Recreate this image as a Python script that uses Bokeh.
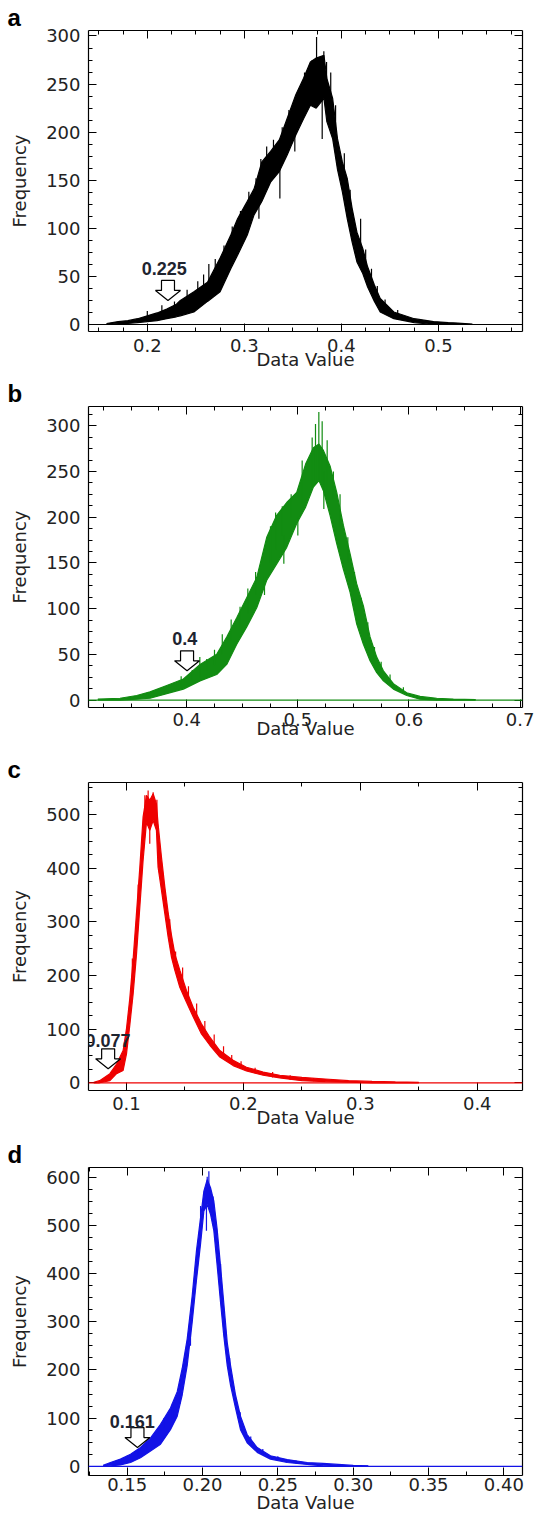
from bokeh.plotting import figure
from bokeh.layouts import column
from bokeh.models import (Range1d, LinearAxis, SingleIntervalTicker, NumeralTickFormatter,
                          Label, Span, CustomJSTickFormatter, Title)
from bokeh.embed import file_html
from bokeh.resources import INLINE

# ---------------- data ----------------
# panel a (black)
a_x = [0.158, 0.170, 0.180, 0.190, 0.200, 0.210, 0.220, 0.230, 0.234, 0.248, 0.262, 0.275,
       0.286, 0.293, 0.303, 0.310, 0.318, 0.327, 0.336, 0.344, 0.353, 0.361, 0.368, 0.374,
       0.382, 0.385, 0.391, 0.396, 0.401, 0.406, 0.411, 0.416, 0.422, 0.427, 0.434, 0.440,
       0.454, 0.475, 0.495, 0.510, 0.520, 0.535]
a_lo = [0, 1, 1, 2, 3, 4, 6, 8, 9, 13, 24, 34, 58, 72, 93, 114, 128, 148, 159, 176, 197, 214,
        228, 225, 235, 211, 193, 161, 138, 110, 86, 65, 53, 39, 24, 13, 6, 2, 0, 0, 0, 0]
a_hi = [1, 3, 4, 6, 9, 12, 16, 21, 25, 34, 44, 69, 93, 110, 128, 141, 169, 180, 192, 214, 239,
        256, 273, 277, 280, 256, 235, 193, 169, 152, 121, 96, 79, 60, 41, 27, 13, 6, 3, 2, 1.5, 0.5]
a_spike_x = [0.200, 0.215, 0.228, 0.241, 0.252, 0.258, 0.2634, 0.270, 0.279, 0.2875, 0.296,
             0.3046, 0.312, 0.317, 0.323, 0.330, 0.339, 0.3459, 0.3562, 0.362, 0.3699, 0.3744,
             0.3819, 0.3847, 0.389, 0.394, 0.403, 0.409, 0.4198, 0.425, 0.431, 0.437, 0.445,
             0.458, 0.3366, 0.3802, 0.300, 0.315, 0.352]
a_spike_lo = [4, 12, 15, 25, 30, 35, 40, 50, 60, 80, 100, 110, 130, 150, 165, 175, 185, 200,
              220, 240, 250, 250, 255, 240, 230, 200, 160, 120, 80, 60, 40, 28, 15, 8,
              131, 193, 88, 110, 180]
a_spike_hi = [14, 20, 24, 36, 45, 52, 63, 68, 82, 102, 118, 138, 152, 172, 185, 192, 205, 223,
              245, 262, 275, 299, 284, 273, 262, 228, 178, 140, 110, 78, 58, 40, 26, 15,
              170, 240, 100, 125, 200]

# panel b (green)
b_x = [0.320, 0.340, 0.355, 0.367, 0.382, 0.397, 0.412, 0.427, 0.436, 0.445, 0.454, 0.463,
       0.472, 0.481, 0.490, 0.499, 0.507, 0.514, 0.519, 0.523, 0.529, 0.535, 0.541, 0.547,
       0.553, 0.559, 0.565, 0.571, 0.577, 0.586, 0.598, 0.610, 0.625, 0.640, 0.660]
b_lo = [0, 0, 1, 2, 7, 12, 21, 28, 39, 61, 80, 101, 131, 149, 167, 193, 211, 233, 240, 229,
        202, 171, 143, 118, 83, 61, 43, 30, 21, 12, 5, 1, 0, 0, 0]
b_hi = [1, 2, 5, 9, 16, 23, 39, 50, 69, 90, 112, 134, 178, 202, 216, 227, 258, 276, 280, 273,
        256, 227, 191, 160, 127, 103, 69, 47, 32, 18, 8, 4, 2, 1, 0.5]
b_spike_x = [0.395, 0.405, 0.4118, 0.418, 0.425, 0.432, 0.440, 0.448, 0.455, 0.462, 0.4754,
             0.480, 0.486, 0.494, 0.5039, 0.5129, 0.5159, 0.5189, 0.5219, 0.5264, 0.532, 0.538,
             0.545, 0.551, 0.557, 0.563, 0.569, 0.575, 0.583, 0.595,
             0.5234, 0.4874, 0.470, 0.500]
b_spike_lo = [15, 22, 25, 32, 38, 50, 65, 80, 95, 115, 150, 165, 180, 200, 215, 235, 240, 240,
              240, 230, 220, 190, 150, 120, 95, 70, 45, 30, 18, 8,
              209, 149, 115, 180]
b_spike_hi = [26, 33, 47, 45, 55, 72, 88, 102, 122, 140, 190, 205, 212, 225, 262, 287, 302, 315,
              305, 284, 250, 225, 178, 140, 112, 85, 58, 42, 28, 14,
              250, 180, 135, 200]

# panel c (red)
c_x = [0.072, 0.077, 0.0858, 0.0915, 0.0971, 0.1000, 0.1028, 0.1057, 0.1085, 0.1114, 0.1142,
       0.1171, 0.1199, 0.1228, 0.1256, 0.1270, 0.1299, 0.1328, 0.1356, 0.1385, 0.1413, 0.1456,
       0.1513, 0.1570, 0.1641, 0.1713, 0.1798, 0.1912, 0.2026, 0.2169, 0.2311, 0.250, 0.270,
       0.290, 0.310, 0.330, 0.350]
c_lo = [0, 0, 4, 17, 23, 54, 107, 166, 238, 328, 415, 486, 471, 489, 471, 402, 359, 315, 272,
        234, 210, 178, 150, 123, 91, 70, 48, 32, 22, 14, 9, 4, 2, 1, 0, 0, 0]
c_hi = [1, 4, 17, 35, 60, 101, 157, 231, 315, 402, 496, 536, 527, 539, 520, 483, 421, 365, 318,
        275, 241, 210, 172, 141, 110, 85, 60, 42, 29, 20, 14, 10, 7, 4, 2.5, 1.5, 0.8]
c_spike_x = [0.105, 0.110, 0.1157, 0.1185, 0.1228, 0.126, 0.132, 0.137, 0.142, 0.148, 0.153,
             0.160, 0.167, 0.175, 0.183, 0.190, 0.198, 0.210, 0.225, 0.240, 0.260, 0.1199]
c_spike_lo = [180, 300, 470, 480, 490, 470, 330, 270, 215, 185, 155, 120, 90, 65, 45, 35, 28,
              18, 10, 5, 3, 446]
c_spike_hi = [232, 370, 536, 545, 542, 528, 372, 305, 245, 215, 180, 148, 115, 90, 68, 52, 40,
              28, 20, 14, 9, 480]

# panel d (blue)
d_x = [0.134, 0.1389, 0.1455, 0.1522, 0.1588, 0.1655, 0.1721, 0.1787, 0.1832, 0.1865, 0.1898,
       0.1931, 0.1960, 0.1987, 0.2009, 0.2031, 0.2053, 0.2075, 0.2097, 0.2119, 0.2141, 0.2164,
       0.2186, 0.2219, 0.2252, 0.2296, 0.2363, 0.2451, 0.2562, 0.2695, 0.280, 0.290, 0.300, 0.310]
d_lo = [0, 1, 3, 8, 18, 32, 46, 76, 104, 148, 209, 298, 387, 462, 530, 543, 523, 489, 417, 342,
        271, 209, 168, 121, 76, 49, 29, 15, 8, 4, 1, 0, 0, 0]
d_hi = [2, 8, 15, 25, 39, 59, 87, 121, 155, 203, 264, 353, 448, 516, 571, 595, 578, 550, 492,
        417, 339, 257, 209, 148, 104, 66, 39, 22, 14, 8, 6, 4, 2, 1]
d_spike_x = [0.150, 0.157, 0.163, 0.1743, 0.180, 0.185, 0.192, 0.1987, 0.2031, 0.2042, 0.207,
             0.212, 0.218, 0.225, 0.232, 0.240, 0.250, 0.262, 0.2026]
d_spike_lo = [10, 20, 28, 80, 100, 130, 250, 500, 545, 550, 510, 350, 190, 90, 45, 25, 13, 6, 489]
d_spike_hi = [22, 36, 52, 100, 130, 170, 290, 540, 601, 612, 560, 420, 225, 112, 62, 36, 21, 12, 540]

# threshold annotations
ann_text = ["0.225", "0.4", "0.077", "0.161"]
ann_text_x = [0.2175, 0.3982, 0.0842, 0.1533]
ann_text_y = [58, 67, 79, 93]
ann_arrow_x = [0.2213, 0.4003, 0.0843, 0.1568]
ann_arrow_y = [25, 32, 26, 39]

letters = ["a", "b", "c", "d"]
colors = ["#000000", "#128c12", "#ee0000", "#1212e6"]
x_ranges = [(0.1394, 0.5866), (0.3116, 0.7022), (0.0675, 0.4387), (0.1243, 0.4124)]
y_ranges = [(-7.3, 305.7), (-8.1, 321), (-14.4, 560), (-19, 620)]
x_tick = [0.1, 0.1, 0.1, 0.05]
x_minor = [4, 4, 2, 2]
x_fmt = ["0.0", "0.0", "0.0", "0.00"]
y_tick = [50, 50, 100, 100]
y_minor = [4, 4, 4, 4]

# ---------------- layout / style ----------------
W = 534
LEFT, RIGHT = 88, 12
FRAME_W = W - LEFT - RIGHT
TOPS = [30, 29, 29, 30]
FRAME_H = [301, 301, 308, 308]
BOTTOMS = [46, 46, 47, 42]
LAB_STANDOFF = [7, 5, 6, 2]
TITLE_STANDOFF = [-6, -11, -6, -2]

AX_FONT = "DejaVu Sans"
TXT_COLOR = "#222222"


def style_axis(ax, show_labels):
    ax.axis_line_color = "black"
    ax.axis_line_width = 1.2
    ax.major_tick_line_color = "black"
    ax.minor_tick_line_color = "black"
    ax.major_tick_in = 8
    ax.major_tick_out = 0
    ax.minor_tick_in = 4
    ax.minor_tick_out = 0
    if show_labels:
        ax.major_label_text_font = AX_FONT
        ax.major_label_text_font_size = "18px"
        ax.major_label_text_color = TXT_COLOR
        ax.axis_label_text_font = AX_FONT
        ax.axis_label_text_font_size = "18px"
        ax.axis_label_text_font_style = "normal"
        ax.axis_label_text_color = TXT_COLOR
    else:
        ax.major_label_text_font_size = "0px"
        ax.major_label_standoff = 0


def make_panel(i, xs, lo, hi, sx, slo, shi):
    xr, yr = x_ranges[i], y_ranges[i]
    top, fh, bot = TOPS[i], FRAME_H[i], BOTTOMS[i]
    col = colors[i]
    p = figure(width=W, height=top + fh + bot,
               x_range=Range1d(*xr), y_range=Range1d(*yr),
               x_axis_type=None, y_axis_type=None,
               output_backend="svg", toolbar_location=None,
               min_border_left=LEFT, min_border_right=RIGHT,
               min_border_top=top, min_border_bottom=bot)
    p.outline_line_color = None
    p.background_fill_color = "white"
    p.border_fill_color = "white"

    xt = SingleIntervalTicker(interval=x_tick[i], num_minor_ticks=x_minor[i])
    yt = SingleIntervalTicker(interval=y_tick[i], num_minor_ticks=y_minor[i])

    xb = LinearAxis(ticker=xt, formatter=NumeralTickFormatter(format=x_fmt[i]), axis_label="Data Value")
    style_axis(xb, True)
    xb.major_label_standoff = LAB_STANDOFF[i]
    xb.axis_label_standoff = TITLE_STANDOFF[i]
    p.add_layout(xb, "below")

    yl = LinearAxis(ticker=yt, formatter=NumeralTickFormatter(format="0"), axis_label="Frequency")
    style_axis(yl, True)
    yl.major_label_standoff = 8
    yl.axis_label_standoff = 13
    p.add_layout(yl, "left")

    xa = LinearAxis(ticker=xt, formatter=CustomJSTickFormatter(code="return ''"))
    style_axis(xa, False)
    p.add_layout(xa, "above")
    yr_ax = LinearAxis(ticker=yt, formatter=CustomJSTickFormatter(code="return ''"))
    style_axis(yr_ax, False)
    p.add_layout(yr_ax, "right")

    # panel letter as a left-aligned title pulled out to the page edge
    p.add_layout(Title(text=letters[i], align="left", offset=-81, standoff=0,
                       text_font="Liberation Sans", text_font_style="bold",
                       text_font_size="24px", text_color="black"), "above")

    # zero line of the histogram
    p.add_layout(Span(location=0, dimension="width", line_color=col, line_width=1.2))

    # noisy histogram band
    p.varea(x=xs, y1=lo, y2=hi, fill_color=col)
    p.line(xs, hi, line_color=col, line_width=1.2)
    p.line(xs, lo, line_color=col, line_width=1.2)
    p.segment(x0=sx, y0=slo, x1=sx, y1=shi, line_color=col, line_width=1.2)

    kx = FRAME_W / (xr[1] - xr[0])
    ky = fh / (yr[1] - yr[0])

    # hollow down arrow marking the threshold
    ax0, ay0 = ann_arrow_x[i], ann_arrow_y[i]
    shape = [(0, 0), (12.5, 10), (6.5, 10), (6.5, 20), (-6.5, 20), (-6.5, 10), (-12.5, 10)]
    p.patch([ax0 + dx / kx for dx, dy in shape], [ay0 + dy / ky for dx, dy in shape],
            fill_color="white", line_color="black", line_width=1.2)

    p.add_layout(Label(x=ann_text_x[i], y=ann_text_y[i], text=ann_text[i],
                       text_font="Liberation Sans", text_font_style="bold",
                       text_font_size="18px", text_color="#1e2430",
                       text_align="center", text_baseline="alphabetic"))
    return p


pa = make_panel(0, a_x, a_lo, a_hi, a_spike_x, a_spike_lo, a_spike_hi)
pb = make_panel(1, b_x, b_lo, b_hi, b_spike_x, b_spike_lo, b_spike_hi)
pc = make_panel(2, c_x, c_lo, c_hi, c_spike_x, c_spike_lo, c_spike_hi)
pd = make_panel(3, d_x, d_lo, d_hi, d_spike_x, d_spike_lo, d_spike_hi)

layout = column(pa, pb, pc, pd, spacing=0)
open("out.html", "w").write(file_html(layout, INLINE))
